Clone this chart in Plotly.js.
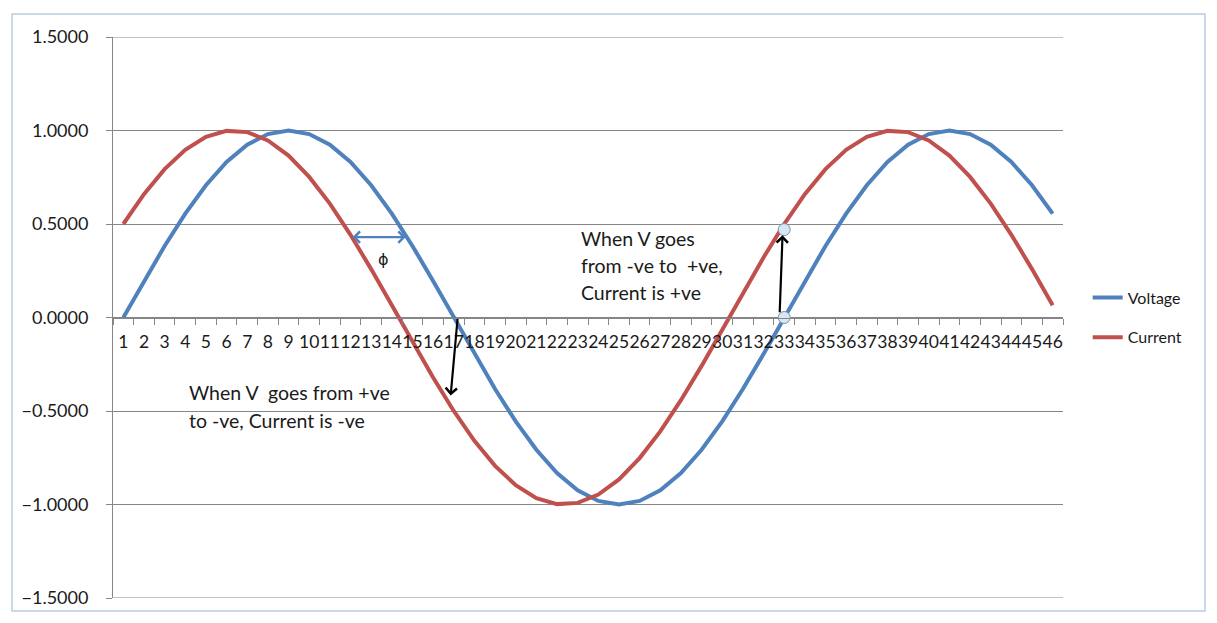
<!DOCTYPE html>
<html>
<head>
<meta charset="utf-8">
<script src="https://cdn.plot.ly/plotly-3.0.1.min.js"></script>
<style>html,body{margin:0;padding:0;background:#fff;}#chart{width:1217px;height:623px;}</style>
</head>
<body>
<div id="chart"></div>
<script>
const categories = ['1','2','3','4','5','6','7','8','9','10','11','12','13','14','15','16','17','18','19','20','21','22','23','24','25','26','27','28','29','30','31','32','33','34','35','36','37','38','39','40','41','42','43','44','45','46'];
const voltage = [0, 0.1951, 0.3827, 0.5556, 0.7071, 0.8315, 0.9239, 0.9808, 1.0000, 0.9808, 0.9239, 0.8315, 0.7071, 0.5556, 0.3827, 0.1951, 0, -0.1951, -0.3827, -0.5556, -0.7071, -0.8315, -0.9239, -0.9808, -1.0000, -0.9808, -0.9239, -0.8315, -0.7071, -0.5556, -0.3827, -0.1951, 0, 0.1951, 0.3827, 0.5556, 0.7071, 0.8315, 0.9239, 0.9808, 1.0000, 0.9808, 0.9239, 0.8315, 0.7071, 0.5556];
const current = [0.5000, 0.6593, 0.7934, 0.8969, 0.9659, 0.9979, 0.9914, 0.9469, 0.8660, 0.7518, 0.6088, 0.4423, 0.2588, 0.0654, -0.1305, -0.3214, -0.5000, -0.6593, -0.7934, -0.8969, -0.9659, -0.9979, -0.9914, -0.9469, -0.8660, -0.7518, -0.6088, -0.4423, -0.2588, -0.0654, 0.1305, 0.3214, 0.5000, 0.6593, 0.7934, 0.8969, 0.9659, 0.9979, 0.9914, 0.9469, 0.8660, 0.7518, 0.6088, 0.4423, 0.2588, 0.0654];
const yTicks = [-1.5, -1.0, -0.5, 0, 0.5, 1.0, 1.5];
const circleX = ['33', '33'];
const circleY = [0.47, 0];

const FONT = 'Lato, "Open Sans", sans-serif';
const GRID = '#868686';
const TXT = '#1a1a1a';

const traces = [
  {x: categories, y: voltage, name: 'Voltage', type: 'scatter', mode: 'lines',
   line: {color: '#4F81BD', width: 4}, legendgroup: 'v'},
  {x: categories, y: current, name: 'Current', type: 'scatter', mode: 'lines',
   line: {color: '#C0504D', width: 4}, legendgroup: 'c'},
  {x: circleX, y: circleY, type: 'scatter', mode: 'markers', showlegend: false, hoverinfo: 'skip',
   marker: {size: 12, color: '#d6e6f2', line: {color: '#7f8f9f', width: 1}}}
];

const layout = {
  width: 1217, height: 623,
  margin: {l: 113, r: 154, t: 37, b: 25},
  paper_bgcolor: '#ffffff', plot_bgcolor: '#ffffff',
  font: {family: FONT, size: 16, color: TXT},
  showlegend: true,
  legend: {x: 1.026, xanchor: 'left', y: 0.5, yanchor: 'middle', traceorder: 'grouped', tracegroupgap: 16,
           font: {family: FONT, size: 16, color: TXT}, bgcolor: 'rgba(0,0,0,0)'},
  xaxis: {
    type: 'category', range: [-0.5, 45.5], anchor: 'free', position: 0.5,
    tickmode: 'linear', tick0: 0, dtick: 1,
    showgrid: false, zeroline: false, showline: true, linecolor: GRID, linewidth: 1,
    ticks: 'outside', tickson: 'boundaries', ticklen: 6, tickcolor: GRID, ticklabelstandoff: 8,
    tickfont: {family: FONT, size: 17.5, color: TXT}, tickangle: 0, automargin: false,
    fixedrange: true
  },
  yaxis: {
    range: [-1.5, 1.5], tickvals: yTicks, tickformat: '.4f',
    showgrid: true, gridcolor: GRID, gridwidth: 1, zeroline: false,
    showline: true, linecolor: GRID, linewidth: 1,
    ticks: 'outside', ticklen: 6, tickcolor: GRID, ticklabelstandoff: 14,
    tickfont: {family: FONT, size: 18, color: TXT}, automargin: false, fixedrange: true
  },
  shapes: [
    {type: 'rect', xref: 'paper', yref: 'paper', x0: -0.1063, x1: 1.1495, y0: -0.023, y1: 1.041,
     line: {color: '#b8cde0', width: 1.5}, layer: 'below'},
    {type: 'line', xref: 'paper', yref: 'y', x0: 0, x1: 1, y0: yTicks[yTicks.length - 1], y1: yTicks[yTicks.length - 1],
     line: {color: GRID, width: 1}, layer: 'below'},
    {type: 'line', xref: 'paper', yref: 'y', x0: 0, x1: 1, y0: yTicks[0], y1: yTicks[0],
     line: {color: GRID, width: 1}, layer: 'below'}
  ],
  annotations: [
    {x: 11.1, y: 0.43, ax: 13.75, ay: 0.43, xref: 'x', yref: 'y', axref: 'x', ayref: 'y', text: '',
     showarrow: true, arrowhead: 4, startarrowhead: 4, arrowside: 'end+start', arrowsize: 1, arrowwidth: 2.2, arrowcolor: '#4F81BD'},
    {x: 12.61, y: 0.31, xref: 'x', yref: 'y', text: '\u03d5', showarrow: false,
     font: {family: 'DejaVu Sans, sans-serif', size: 16, color: TXT}},
    {x: 15.85, y: -0.417, ax: 16.19, ay: 0.0, xref: 'x', yref: 'y', axref: 'x', ayref: 'y', text: '',
     showarrow: true, arrowhead: 4, arrowsize: 1, arrowwidth: 2.2, arrowcolor: '#000'},
    {x: 31.92, y: 0.44, ax: 31.78, ay: 0.02, xref: 'x', yref: 'y', axref: 'x', ayref: 'y', text: '',
     showarrow: true, arrowhead: 4, arrowsize: 1, arrowwidth: 2.2, arrowcolor: '#000'},
    {x: 0.4905, y: 0.422, xref: 'paper', yref: 'y', xanchor: 'left', yanchor: 'middle', showarrow: false,
     text: 'When V goes', font: {family: FONT, size: 19.5, color: TXT}},
    {x: 0.4905, y: 0.278, xref: 'paper', yref: 'y', xanchor: 'left', yanchor: 'middle', showarrow: false,
     text: 'from -ve to\u00a0 +ve,', font: {family: FONT, size: 19.5, color: TXT}},
    {x: 0.4905, y: 0.134, xref: 'paper', yref: 'y', xanchor: 'left', yanchor: 'middle', showarrow: false,
     text: 'Current is +ve', font: {family: FONT, size: 19.5, color: TXT}},
    {x: 0.0779, y: -0.401, xref: 'paper', yref: 'y', xanchor: 'left', yanchor: 'middle', showarrow: false,
     text: 'When V\u00a0 goes from +ve', font: {family: FONT, size: 19.5, color: TXT}},
    {x: 0.0779, y: -0.551, xref: 'paper', yref: 'y', xanchor: 'left', yanchor: 'middle', showarrow: false,
     text: 'to -ve, Current is -ve', font: {family: FONT, size: 19.5, color: TXT}}
  ]
};

Plotly.newPlot('chart', traces, layout, {displayModeBar: false, staticPlot: true});
</script>
</body>
</html>
